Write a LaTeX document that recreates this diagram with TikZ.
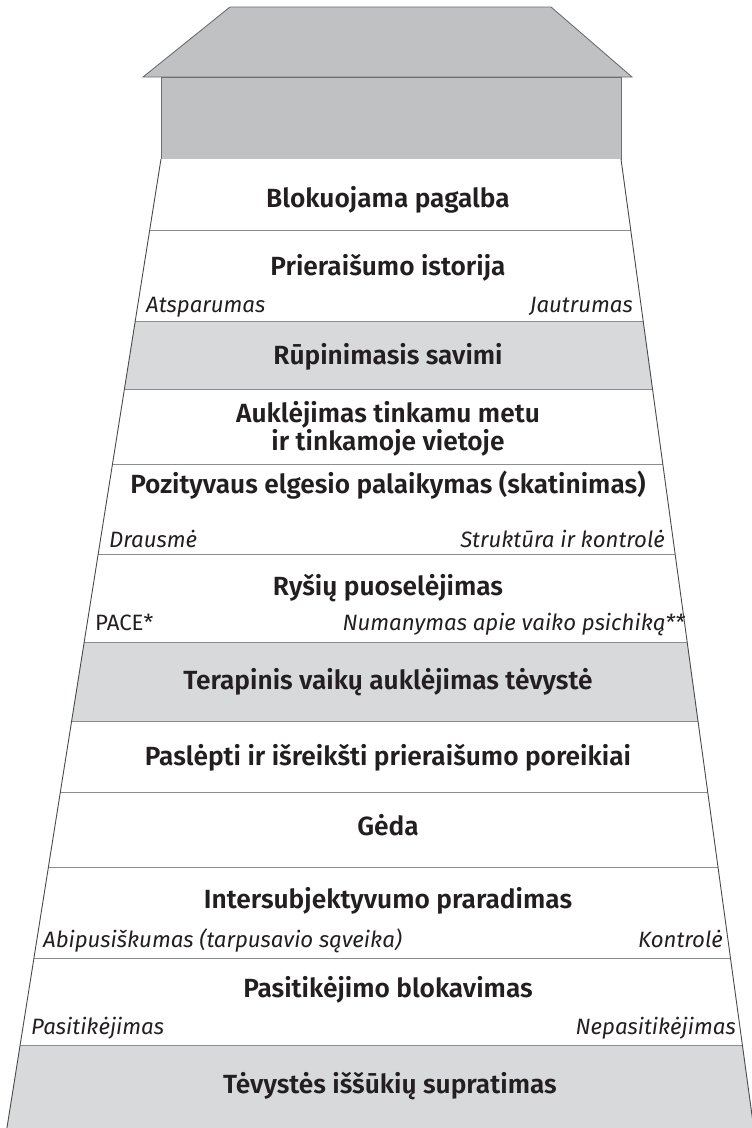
\documentclass[tikz,border=0pt]{standalone}
\usepackage{fontspec}
\setmainfont{Fira Sans}[BoldFont={Fira Sans SemiBold},BoldItalicFont={Fira Sans SemiBold Italic}]
\definecolor{roofgray}{HTML}{C0C1C3}
\definecolor{bandgray}{HTML}{D8D9DB}
\definecolor{ink}{HTML}{231F20}
\definecolor{edgecol}{HTML}{4A4A4C}
\definecolor{divcol}{HTML}{8C8D8F}
\begin{document}
\begin{tikzpicture}[x=1pt,y=-1pt,
  declare function={xl(\t)=161-0.159*(\t-159); xr(\t)=621+0.137*(\t-159);},
  title/.style={font=\bfseries\fontsize{26.3}{30}\selectfont, text=ink, inner sep=0pt, anchor=base},
  side/.style={font=\itshape\fontsize{22.2}{26}\selectfont, text=ink, inner sep=0pt},
  sideup/.style={font=\fontsize{22.2}{26}\selectfont, text=ink, inner sep=0pt},
  divider/.style={draw=divcol, line width=0.9pt},
  edgeline/.style={draw=edgecol, line width=0.9pt},
  roofstyle/.style={fill=roofgray, draw=edgecol!80, line width=0.9pt, line join=miter}]
\clip (0,0) rectangle (752,1128);
% roof and box
\draw[roofstyle] (230,7) -- (551,7) -- (632,77) -- (143,77) -- cycle;
\draw[roofstyle] (161,77) rectangle (621,159);
% bands
\foreach \a/\b/\c in {159/230/white,230/321/white,321/389/bandgray,389/464/white,464/554/white,554/642/white,642/721/bandgray,721/792/white,792/867/white,867/958/white,958/1045/white,1045/1140/bandgray}
  \fill[\c] ({xl(\a)},\a) -- ({xr(\a)},\a) -- ({xr(\b)},\b) -- ({xl(\b)},\b) -- cycle;
\foreach \a in {230,321,389,464,554,642,721,792,867,958,1045}
  \draw[divider] ({xl(\a)},\a) -- ({xr(\a)},\a);
\draw[edgeline] ({xl(159)},159) -- ({xl(1140)},1140);
\draw[edgeline] ({xr(159)},159) -- ({xr(1140)},1140);
% titles
\node[title] (t1) at (388,207) {Blokuojama pagalba};
\node[title] (t2) at (388,275) {Prieraišumo istorija};
\node[side, anchor=base west] (s2l) at (146,312) {Atsparumas};
\node[side, anchor=base east] (s2r) at (633,312) {Jautrumas};
\node[title] (t3) at (388,364) {Rūpinimasis savimi};
\node[title] (t4a) at (388,422) {Auklėjimas tinkamu metu};
\node[title] (t4b) at (388,450) {ir tinkamoje vietoje};
\node[title] (t5) at (388,493) {Pozityvaus elgesio palaikymas (skatinimas)};
\node[side, anchor=base west] (s5l) at (109,547) {Drausmė};
\node[side, anchor=base east] (s5r) at (665,547) {Struktūra ir kontrolė};
\node[title] (t6) at (388,595) {Ryšių puoselėjimas};
\node[sideup, anchor=base west] (s6l) at (95,630) {PACE*};
\node[side, anchor=base east] (s6r) at (685,630) {Numanymas apie vaiko psichiką**};
\node[title] (t7) at (388,689) {Terapinis vaikų auklėjimas tėvystė};
\node[title] (t8) at (388,765) {Paslėpti ir išreikšti prieraišumo poreikiai};
\node[title] (t9) at (388,835) {Gėda};
\node[title] (t10) at (388,908) {Intersubjektyvumo praradimas};
\node[side, anchor=base west] (s10l) at (43,947) {Abipusiškumas (tarpusavio sąveika)};
\node[side, anchor=base east] (s10r) at (723,947) {Kontrolė};
\node[title] (t11) at (388,997) {Pasitikėjimo blokavimas};
\node[side, anchor=base west] (s11l) at (31,1034) {Pasitikėjimas};
\node[side, anchor=base east] (s11r) at (736,1034) {Nepasitikėjimas};
\node[title] (t12) at (390,1093) {Tėvystės iššūkių supratimas};
\end{tikzpicture}
\end{document}
